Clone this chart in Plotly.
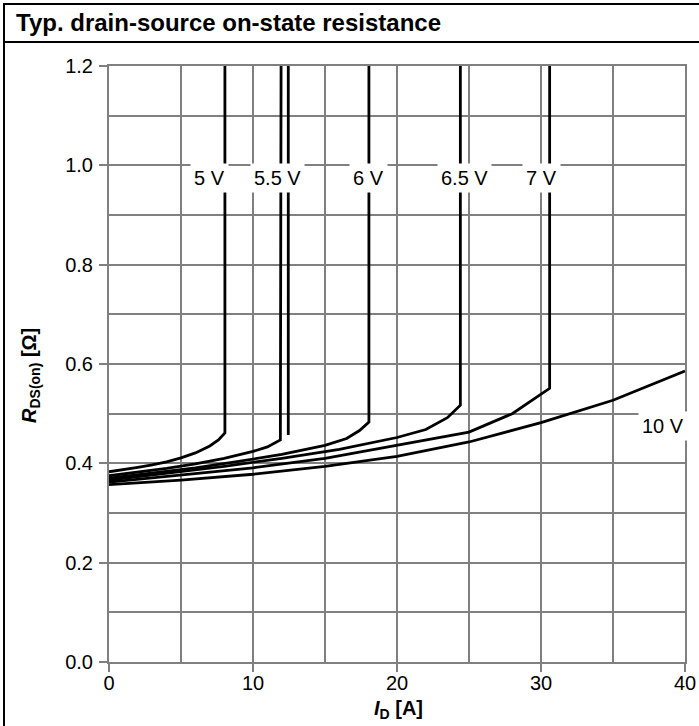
import plotly.graph_objects as go

# ---------------- data ----------------
x_5v = [0, 1, 2, 3, 4, 5, 6, 7, 7.6, 8.05, 8.05]
y_5v = [0.383, 0.387, 0.392, 0.397, 0.403, 0.411, 0.421, 0.435, 0.447, 0.461, 1.2]

x_55v = [0, 2, 4, 6, 8, 10, 11, 11.9, 11.9, 11.95]
y_55v = [0.375, 0.382, 0.390, 0.399, 0.410, 0.424, 0.433, 0.447, 1.1, 1.2]

x_55v_b = [12.45, 12.45]
y_55v_b = [0.457, 1.2]

x_6v = [0, 3, 6, 9, 12, 15, 16.5, 17.4, 18.05, 18.05]
y_6v = [0.370, 0.380, 0.391, 0.404, 0.418, 0.436, 0.450, 0.466, 0.483, 1.2]

x_65v = [0, 4, 8, 12, 16, 20, 22, 23.5, 24.4, 24.4]
y_65v = [0.366, 0.380, 0.394, 0.410, 0.428, 0.452, 0.468, 0.492, 0.517, 1.2]

x_7v = [0, 5, 10, 15, 20, 25, 28, 30, 30.6, 30.6]
y_7v = [0.362, 0.376, 0.391, 0.410, 0.436, 0.463, 0.500, 0.538, 0.551, 1.2]

x_10v = [0, 5, 10, 15, 20, 25, 30, 35, 40]
y_10v = [0.357, 0.366, 0.378, 0.394, 0.414, 0.443, 0.482, 0.527, 0.586]

curve_labels = ["5 V", "5.5 V", "6 V", "6.5 V", "7 V", "10 V"]
label_x = [7.0, 11.7, 18.05, 24.7, 30.05, 38.5]
label_y = [0.975, 0.975, 0.975, 0.975, 0.975, 0.475]

title_text = "Typ. drain-source on-state resistance"
x_title = "<b><i>I</i><sub>D</sub> [A]</b>"
y_title = "<b><i>R</i><sub>DS(on)</sub> [Ω]</b>"

# ---------------- figure ----------------
W, H = 699, 726
L, R, T, B = 109, 14, 66, 64
pw, ph = W - L - R, H - T - B

def px(xp):
    return (xp - L) / pw

def py(yp):
    return (H - B - yp) / ph

FONT = "Liberation Sans, Arial, sans-serif"
GRID = "#808080"

fig = go.Figure()
series = [(x_5v, y_5v), (x_55v, y_55v), (x_55v_b, y_55v_b), (x_6v, y_6v),
          (x_65v, y_65v), (x_7v, y_7v), (x_10v, y_10v)]
for xs, ys in series:
    fig.add_trace(go.Scatter(x=xs, y=ys, mode="lines",
                             line=dict(color="black", width=2.8),
                             showlegend=False, hoverinfo="skip"))

for t, xv, yv in zip(curve_labels, label_x, label_y):
    fig.add_annotation(x=xv, y=yv, text=t, showarrow=False,
                       xref="x", yref="y", bgcolor="white", borderpad=3,
                       font=dict(family=FONT, size=20, color="black"))

# chart title
fig.add_annotation(x=px(14), y=py(22), xref="paper", yref="paper",
                   text="<b>" + title_text + "</b>", showarrow=False,
                   xanchor="left", yanchor="middle",
                   font=dict(family=FONT, size=24, color="black"))
# axis titles
fig.add_annotation(x=px(398), y=py(709), xref="paper", yref="paper",
                   text=x_title, showarrow=False, xanchor="center", yanchor="middle",
                   font=dict(family=FONT, size=20, color="black"))
fig.add_annotation(x=px(30), y=py(376), xref="paper", yref="paper",
                   text=y_title, showarrow=False, textangle=-90,
                   xanchor="center", yanchor="middle",
                   font=dict(family=FONT, size=20, color="black"))

# frame lines (left, top, title separator)
fig.add_shape(type="line", xref="paper", yref="paper",
              x0=px(4), x1=px(4), y0=py(3), y1=py(H + 5),
              line=dict(color="black", width=2))
fig.add_shape(type="line", xref="paper", yref="paper",
              x0=px(3), x1=px(W + 5), y0=py(4), y1=py(4),
              line=dict(color="black", width=2))
fig.add_shape(type="line", xref="paper", yref="paper",
              x0=px(3), x1=px(W + 5), y0=py(42), y1=py(42),
              line=dict(color="black", width=2))

axis_common = dict(
    showgrid=True, gridcolor=GRID, gridwidth=2,
    showline=True, linecolor=GRID, linewidth=2, mirror=True,
    ticks="outside", ticklen=8, tickwidth=2, tickcolor=GRID,
    zeroline=False, automargin=False,
    tickfont=dict(family=FONT, size=20, color="black"),
)

fig.update_xaxes(range=[0, 40], tick0=0, dtick=10, ticklabelstandoff=-6,
                 minor=dict(dtick=5, showgrid=True, gridcolor=GRID, gridwidth=2, ticks=""),
                 **axis_common)
fig.update_yaxes(range=[0, 1.2], tick0=0, dtick=0.2, tickformat=".1f",
                 ticklabelstandoff=2,
                 minor=dict(dtick=0.1, showgrid=True, gridcolor=GRID, gridwidth=2, ticks=""),
                 **axis_common)

fig.update_layout(width=W, height=H,
                  margin=dict(l=L, r=R, t=T, b=B, pad=0),
                  paper_bgcolor="white", plot_bgcolor="white",
                  showlegend=False)

fig.write_html("out.html", config={"displayModeBar": False},
               post_script="document.body.style.margin='0';document.body.style.padding='0';"
                           "document.body.style.overflow='hidden';")
